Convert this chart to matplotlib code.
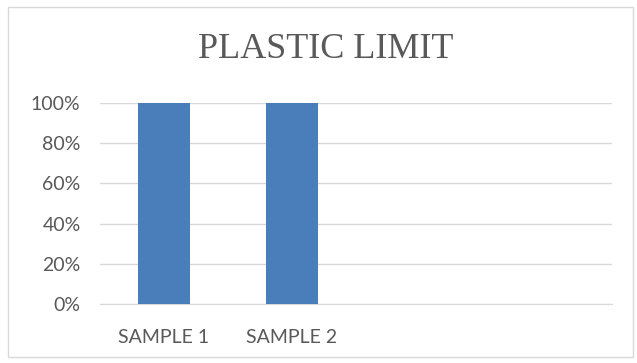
import matplotlib
matplotlib.use("Agg")
import matplotlib.pyplot as plt
from matplotlib.patches import Rectangle
from matplotlib.ticker import FuncFormatter

categories = ["SAMPLE 1", "SAMPLE 2", "", ""]
values = [1.0, 1.0, None, None]
y_ticks = [0.0, 0.2, 0.4, 0.6, 0.8, 1.0]
title = "PLASTIC LIMIT"

W, H = 637, 363
fig = plt.figure(figsize=(W / 100, H / 100), dpi=100)
fig.patch.set_facecolor("white")

# chart frame
fig.patches.append(Rectangle((8 / W, 6 / H), 625 / W, 350 / H, transform=fig.transFigure,
                             fill=False, edgecolor="#d9d9d9", linewidth=1.0))

ax = fig.add_axes([100 / W, 1 - 304 / H, 512 / W, 201 / H])
xs = list(range(len(categories)))
bar_x = [x for x, v in zip(xs, values) if v is not None]
bar_v = [v for v in values if v is not None]
ax.bar(bar_x, bar_v, width=0.4, color="#4a7ebb", zorder=3)

ax.set_xlim(-0.5, len(categories) - 0.5)
ax.set_ylim(0, 1.0)
ax.set_yticks(y_ticks)
ax.yaxis.set_major_formatter(FuncFormatter(lambda v, p: f"{v * 100:.0f}%"))
ax.set_xticks(xs)
ax.set_xticklabels(categories)
ax.grid(axis="y", color="#d9d9d9", linewidth=1.0, zorder=0)
ax.set_axisbelow(True)
for s in ["top", "right", "left"]:
    ax.spines[s].set_visible(False)
ax.spines["bottom"].set_color("#d9d9d9")
ax.spines["bottom"].set_clip_on(False)
ax.tick_params(axis="both", length=0, colors="#595959", labelsize=14)
ax.tick_params(axis="y", pad=14)
ax.tick_params(axis="x", pad=18)
for lbl in ax.get_xticklabels() + ax.get_yticklabels():
    lbl.set_fontfamily("Lato")

fig.text(326 / W, 1 - 49 / H, title, ha="center", va="center",
         fontfamily="Liberation Serif", fontsize=26, color="#595959")

fig.savefig("out.png", dpi=100, facecolor="white")
